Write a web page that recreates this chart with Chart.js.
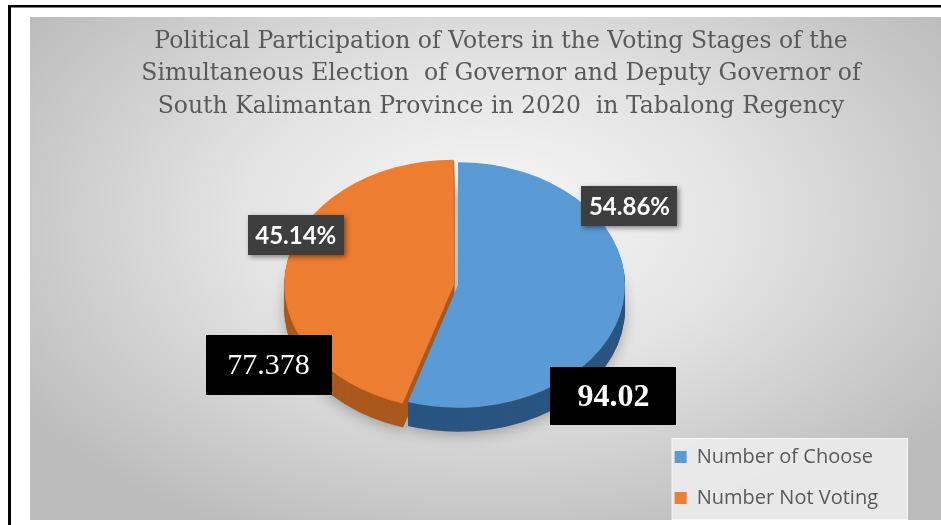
<!DOCTYPE html>
<html>
<head>
<meta charset="utf-8">
<script src="https://cdn.jsdelivr.net/npm/chart.js@4.4.1/dist/chart.umd.min.js"></script>
<style>
    html, body { margin: 0; padding: 0; background: #fff; }
    #wrap { width: 941px; height: 525px; }
</style>
</head>
<body>
<div id="wrap"><canvas id="chart" width="941" height="525"></canvas></div>
<script>
// Chart data
const categories = ['Number of Choose', 'Number Not Voting'];
const values = [94.02, 77.378];
const percentLabels = ['54.86%', '45.14%'];
const titleLines = [
    'Political Participation of Voters in the Voting Stages of the',
    'Simultaneous Election  of Governor and Deputy Governor of',
    'South Kalimantan Province in 2020  in Tabalong Regency'
];

// Colors
const colors = {
    top: ['#5b9bd5', '#ed7d31'],
    side: ['#2b5580', '#ab581d'],
    text: '#595959'
};

// Label tag styles (blue first, orange second)
const pctStyle = { font: 'bold 24px Lato', fill: '#3e3e3e', width: 96, height: 40, shadow: true };
const valStyles = [
    { font: 'bold 32px "Liberation Serif"', fill: '#000', width: 126, height: 58 },
    { font: '30px "Liberation Serif"', fill: '#000', width: 126, height: 60 }
];

// Slice outline, same geometry as Chart.js' arc element (offset + radius fix)
function slicePath(ctx, arc) {
    const off = (arc.options.offset || 0) / 4;
    const mid = (arc.startAngle + arc.endAngle) / 2;
    const fix = 1 - Math.sin(Math.min(Math.PI, arc.endAngle - arc.startAngle));
    const cx = arc.x + Math.cos(mid) * off;
    const cy = arc.y + Math.sin(mid) * off;
    ctx.beginPath();
    ctx.moveTo(cx, cy);
    ctx.arc(cx, cy, arc.outerRadius + off * fix, arc.startAngle, arc.endAngle);
    ctx.closePath();
}

function drawTag(ctx, p, text, s) {
    ctx.save();
    if (s.shadow) {
        ctx.shadowColor = 'rgba(0,0,0,0.45)';
        ctx.shadowBlur = 5;
        ctx.shadowOffsetX = 2;
        ctx.shadowOffsetY = 2;
    }
    ctx.fillStyle = s.fill;
    ctx.fillRect(Math.round(p.x - s.width / 2), Math.round(p.y - s.height / 2), s.width, s.height);
    ctx.shadowColor = 'transparent';
    ctx.font = s.font;
    ctx.fillStyle = '#fff';
    ctx.textAlign = 'center';
    ctx.textBaseline = 'middle';
    ctx.fillText(text, p.x, p.y + 1);
    ctx.restore();
}

// Grey panel, frame and legend backdrop
const panelPlugin = {
    id: 'panel',
    beforeDraw(chart) {
        const { ctx, width, height } = chart;
        ctx.save();
        ctx.fillStyle = '#fff';
        ctx.fillRect(0, 0, width, height);

        ctx.save();
        ctx.beginPath();
        ctx.rect(30, 17, width - 30, 503);
        ctx.clip();
        ctx.translate(490, 220);
        ctx.scale(1, 0.62);
        const g = ctx.createRadialGradient(0, 0, 0, 0, 0, 560);
        g.addColorStop(0, '#f8f8f8');
        g.addColorStop(0.45, '#e3e3e3');
        g.addColorStop(1, '#bcbcbc');
        ctx.fillStyle = g;
        ctx.fillRect(-700, -900, 1400, 1800);
        ctx.restore();

        ctx.fillStyle = '#000';
        ctx.fillRect(8, 5, width - 8, 2.5);
        ctx.fillRect(8, 5, 3, height - 5);

        const boxes = chart.legend && chart.legend.legendHitBoxes;
        if (boxes && boxes.length) {
            const l = Math.min(...boxes.map(b => b.left)) - 3;
            const t = Math.min(...boxes.map(b => b.top)) - 9;
            const r = Math.max(...boxes.map(b => b.left + b.width)) + 30;
            const btm = Math.min(520, Math.max(...boxes.map(b => b.top + b.height)) + 12);
            ctx.fillStyle = 'rgba(236,236,236,0.9)';
            ctx.fillRect(l, t, r - l, btm - t);
            ctx.strokeStyle = 'rgba(255,255,255,0.6)';
            ctx.lineWidth = 1;
            ctx.strokeRect(l + 0.5, t + 0.5, r - l - 1, btm - t - 1);
        }
        ctx.restore();
    }
};

// Tilted 3D pie: extruded sides, squashed top faces, tags
const pie3dPlugin = {
    id: 'pie3d',
    beforeDatasetsDraw(chart, args, opts) {
        const ctx = chart.ctx;
        const arcs = chart.getDatasetMeta(0).data;
        const ax = arcs[0].x, ay = arcs[0].y;

        for (let d = opts.depth; d >= 1; d--) {
            ctx.save();
            ctx.translate(opts.center.x - ax, opts.center.y + d);
            ctx.scale(1, opts.tilt);
            ctx.translate(0, -ay);
            if (d === opts.depth) {
                ctx.shadowColor = 'rgba(0,0,0,0.28)';
                ctx.shadowBlur = 14;
                ctx.shadowOffsetY = 3;
            }
            arcs.forEach((arc, i) => {
                slicePath(ctx, arc);
                ctx.fillStyle = opts.sideColors[i];
                ctx.fill();
            });
            ctx.restore();
        }

        // top faces are drawn by Chart.js inside this squashed space
        ctx.save();
        ctx.translate(opts.center.x - ax, opts.center.y);
        ctx.scale(1, opts.tilt);
        ctx.translate(0, -ay);
    },
    afterDatasetsDraw(chart, args, opts) {
        const ctx = chart.ctx;
        ctx.restore();

        const arcs = chart.getDatasetMeta(0).data;
        const anchor = (arc, place) => {
            const off = (arc.options.offset || 0) / 4;
            const mid = (arc.startAngle + arc.endAngle) / 2;
            const a = arc.startAngle + place.frac * (arc.endAngle - arc.startAngle);
            const R = arc.outerRadius * place.r;
            return {
                x: opts.center.x + Math.cos(mid) * off + Math.cos(a) * R,
                y: opts.center.y + (Math.sin(mid) * off + Math.sin(a) * R) * opts.tilt
            };
        };
        arcs.forEach((arc, i) => {
            drawTag(ctx, anchor(arc, opts.pctPlace[i]), percentLabels[i], pctStyle);
            drawTag(ctx, anchor(arc, opts.valPlace[i]), String(values[i]), valStyles[i]);
        });
    }
};

function buildChart() {
    const ctx = document.getElementById('chart').getContext('2d');
    new Chart(ctx, {
        type: 'pie',
        data: {
            labels: categories,
            datasets: [{
                data: values,
                backgroundColor: colors.top,
                borderWidth: 0,
                offset: [0, 16],
                radius: 167,
                clip: false
            }]
        },
        options: {
            responsive: false,
            animation: false,
            layout: {
                padding: { left: 114, right: 53, top: 0, bottom: -4 }
            },
            plugins: {
                title: {
                    display: true,
                    text: titleLines,
                    color: colors.text,
                    font: { family: "'DejaVu Serif', serif", size: 23.5, weight: 'normal', lineHeight: 1.4 },
                    padding: { top: 25, bottom: 0 }
                },
                legend: {
                    position: 'right',
                    align: 'end',
                    labels: {
                        color: colors.text,
                        font: { family: "'Open Sans', sans-serif", size: 20 },
                        boxWidth: 12,
                        boxHeight: 12,
                        padding: 21
                    }
                },
                tooltip: { enabled: false },
                pie3d: {
                    center: { x: 458, y: 285 },
                    tilt: 0.735,
                    depth: 24,
                    sideColors: colors.side,
                    pctPlace: [{ frac: 0.294, r: 1.21 }, { frac: 0.588, r: 1.03 }],
                    valPlace: [{ frac: 0.68, r: 1.30 }, { frac: 0.258, r: 1.29 }]
                }
            }
        },
        plugins: [panelPlugin, pie3dPlugin]
    });
}

Promise.all([
    document.fonts.load('24px "DejaVu Serif"'),
    document.fonts.load('bold 32px "Liberation Serif"'),
    document.fonts.load('30px "Liberation Serif"'),
    document.fonts.load('bold 24px Lato'),
    document.fonts.load('20px "Open Sans"')
]).then(buildChart, buildChart);
</script>
</body>
</html>
